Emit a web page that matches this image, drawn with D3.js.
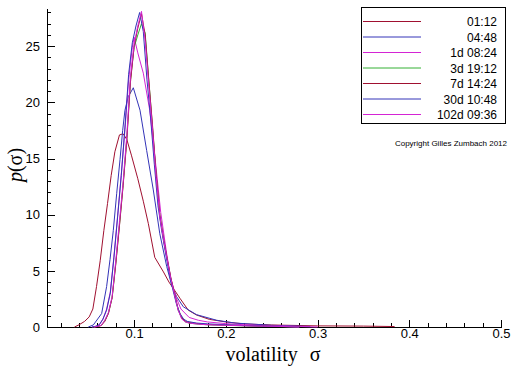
<!DOCTYPE html>
<html>
<head>
<meta charset="utf-8">
<script src="https://cdn.jsdelivr.net/npm/d3@7"></script>
<style>
  html, body { margin: 0; padding: 0; background: #fff; }
  svg { display: block; }
</style>
</head>
<body>
<svg id="chart" width="512" height="366"></svg>
<script>
// ---- data ----
const seriesLabels = ["01:12", "04:48", "1d 08:24", "3d 19:12", "7d 14:24", "30d 10:48", "102d 09:36"];

const s0112 = [[0.035,0],[0.040,0.2],[0.046,0.5],[0.051,0.9],[0.055,1.6],[0.059,3.6],[0.063,5.9],[0.067,8.6],
  [0.071,11.0],[0.075,13.5],[0.079,15.6],[0.084,17.1],[0.088,17.2],[0.092,16.7],[0.097,15.3],[0.104,13.2],
  [0.110,11.2],[0.1155,9.2],[0.1225,6.2],[0.132,4.9],[0.138,4.0],[0.143,3.4],[0.150,2.55],[0.159,1.5],
  [0.168,1.07],[0.182,0.68],[0.200,0.45],[0.220,0.27],[0.250,0.18],[0.300,0.10],[0.350,0.08],[0.384,0.04]];

const s0448 = [[0.050,0],[0.0555,0.18],[0.0646,1.2],[0.070,3.6],[0.0737,6.0],[0.0773,8.6],[0.081,11.9],
  [0.0846,14.9],[0.0875,17.5],[0.090,19.3],[0.0936,20.5],[0.0991,21.3],[0.1064,19.3],[0.1137,15.7],
  [0.1209,12.2],[0.128,8.3],[0.1355,5.4],[0.141,3.7],[0.1463,2.7],[0.1536,1.8],[0.168,1.1],[0.190,0.6],
  [0.210,0.35],[0.250,0.15],[0.292,0.05]];

const s1d = [[0.054,0],[0.058,0.06],[0.062,0.2],[0.066,0.7],[0.070,1.6],[0.074,3.1],[0.078,6.3],[0.082,9.9],
  [0.086,13.6],[0.090,17.6],[0.094,22.0],[0.098,24.9],[0.100,25.8],[0.104,24.4],[0.110,22.6],[0.117,19.3],
  [0.1235,14.5],[0.129,10.2],[0.1355,6.5],[0.140,4.3],[0.146,2.6],[0.151,1.6],[0.160,0.85],[0.170,0.6],
  [0.180,0.45],[0.200,0.3],[0.220,0.2],[0.240,0.13],[0.280,0.05],[0.300,0]];

const s3d = [[0.056,0],[0.060,0.05],[0.064,0.15],[0.068,0.55],[0.072,1.25],[0.076,2.6],[0.080,5.7],[0.084,9.1],
  [0.088,12.7],[0.092,16.8],[0.096,22.0],[0.100,24.9],[0.104,26.0],[0.108,27.0],[0.112,26.2],[0.116,22.0],
  [0.120,17.8],[0.124,13.5],[0.128,9.9],[0.132,7.8],[0.136,6.0],[0.140,4.3],[0.144,2.9],[0.148,1.5],
  [0.152,0.75],[0.156,0.45],[0.160,0.35],[0.170,0.25],[0.180,0.2],[0.200,0.15],[0.220,0.1],[0.240,0.07],
  [0.260,0.04],[0.280,0]];

const s7d = [[0.056,0],[0.060,0.05],[0.064,0.12],[0.068,0.5],[0.072,1.2],[0.076,2.6],[0.080,5.6],[0.084,9.0],
  [0.088,12.6],[0.092,16.6],[0.096,21.8],[0.100,25.0],[0.104,26.6],[0.108,27.9],[0.112,26.0],[0.116,21.9],
  [0.120,18.0],[0.124,13.6],[0.128,10.0],[0.132,7.9],[0.136,6.1],[0.140,4.4],[0.144,3.0],[0.148,1.6],
  [0.152,0.8],[0.156,0.5],[0.160,0.4],[0.170,0.3],[0.180,0.22],[0.200,0.17],[0.220,0.12],[0.240,0.08],
  [0.260,0.05],[0.280,0]];

const s30d = [[0.054,0],[0.058,0.06],[0.062,0.2],[0.066,0.7],[0.070,1.5],[0.074,3.0],[0.078,6.2],[0.082,9.8],
  [0.086,13.5],[0.090,17.8],[0.094,22.5],[0.098,25.3],[0.102,26.8],[0.106,28.0],[0.110,26.3],[0.114,22.0],
  [0.118,18.6],[0.122,14.5],[0.126,10.8],[0.130,8.6],[0.134,6.7],[0.138,4.9],[0.142,3.4],[0.146,2.1],
  [0.150,1.2],[0.154,0.7],[0.158,0.5],[0.168,0.35],[0.180,0.28],[0.200,0.2],[0.220,0.13],[0.240,0.09],
  [0.260,0.05],[0.280,0]];

const s102d = [[0.056,0],[0.060,0.05],[0.064,0.15],[0.068,0.6],[0.072,1.3],[0.076,2.7],[0.080,5.9],[0.084,9.4],
  [0.088,12.9],[0.092,17.0],[0.096,22.3],[0.100,25.2],[0.104,26.8],[0.108,28.1],[0.112,25.5],[0.116,21.4],
  [0.120,17.6],[0.124,13.3],[0.128,9.8],[0.132,7.8],[0.136,6.0],[0.140,4.3],[0.144,2.9],[0.148,1.5],
  [0.152,0.7],[0.156,0.45],[0.160,0.35],[0.170,0.25],[0.180,0.2],[0.200,0.15],[0.220,0.11],[0.240,0.08],
  [0.260,0.05],[0.280,0]];

const seriesData = [s0112, s0448, s1d, s3d, s7d, s30d, s102d];
const xTicks = [0.1, 0.2, 0.3, 0.4, 0.5];
const yTicks = [0, 5, 10, 15, 20, 25];

// ---- styles ----
const colors = ["#a01030", "#3434b8", "#d424d4", "#34b034", "#a01030", "#3434b8", "#d424d4"];

const svg = d3.select("#chart");
const x = d3.scaleLinear().domain([0.005, 0.5]).range([47, 501]);
const y = d3.scaleLinear().domain([0, 28.4]).range([327, 8]);

const tickFont = "Liberation Sans, Arial, sans-serif";

// minor ticks
svg.append("g").attr("transform", `translate(0,${y(0)})`)
  .call(d3.axisBottom(x).tickValues(d3.range(0.02, 0.5, 0.02)).tickSizeInner(-4).tickSizeOuter(0).tickFormat(""))
  .call(g => g.select(".domain").remove());
svg.append("g").attr("transform", `translate(${x(0.005)},0)`)
  .call(d3.axisLeft(y).tickValues(d3.range(0, 29, 1)).tickSizeInner(-4).tickSizeOuter(0).tickFormat(""))
  .call(g => g.select(".domain").remove());

// major axes
const xAxis = svg.append("g").attr("transform", `translate(0,${y(0)})`)
  .call(d3.axisBottom(x).tickValues(xTicks).tickSizeInner(-7).tickSizeOuter(0).tickPadding(2).tickFormat(d3.format(".1f")));
const yAxis = svg.append("g").attr("transform", `translate(${x(0.005)},0)`)
  .call(d3.axisLeft(y).tickValues(yTicks).tickSizeInner(-8).tickSizeOuter(0).tickPadding(7));
[xAxis, yAxis].forEach(g => {
  g.selectAll("text").attr("font-family", tickFont).attr("font-size", 13).attr("fill", "#000");
  g.selectAll("line, path").attr("stroke", "#000").attr("shape-rendering", "crispEdges");
});
yAxis.selectAll("text").attr("x", -7);
svg.selectAll("g line").attr("stroke", "#000").attr("shape-rendering", "crispEdges");

// curves
const line = d3.line().x(d => x(d[0])).y(d => y(d[1]));
seriesData.forEach((s, i) => {
  svg.append("path").datum(s).attr("d", line)
    .attr("fill", "none").attr("stroke", colors[i]).attr("stroke-width", 1);
});

// legend
const lg = svg.append("g");
lg.append("rect").attr("x", 361.5).attr("y", 7.5).attr("width", 144).attr("height", 116)
  .attr("fill", "#fff").attr("stroke", "#000").attr("stroke-width", 1);
seriesLabels.forEach((lab, i) => {
  const yy = 21.5 + i * 15.5;
  lg.append("line").attr("x1", 363).attr("x2", 421).attr("y1", yy).attr("y2", yy)
    .attr("stroke", colors[i]).attr("stroke-width", 1);
  lg.append("text").attr("x", 497).attr("y", yy + 4.5).attr("text-anchor", "end")
    .attr("font-family", tickFont).attr("font-size", 12).text(lab);
});

// copyright
svg.append("text").attr("x", 507).attr("y", 146).attr("text-anchor", "end")
  .attr("font-family", tickFont).attr("font-size", 8).text("Copyright Gilles Zumbach 2012");

// axis titles
const xt = svg.append("text").attr("x", 273).attr("y", 361).attr("text-anchor", "middle")
  .attr("font-family", "Liberation Serif, Times New Roman, serif").attr("font-size", 20);
xt.append("tspan").text("volatility");
xt.append("tspan").attr("dx", 12).text("σ");

const yt = svg.append("text").attr("transform", "translate(22,165) rotate(-90)").attr("text-anchor", "middle")
  .attr("font-family", "Liberation Serif, Times New Roman, serif").attr("font-size", 20);
yt.append("tspan").attr("font-style", "italic").text("p");
yt.append("tspan").text("(σ)");
</script>
</body>
</html>
